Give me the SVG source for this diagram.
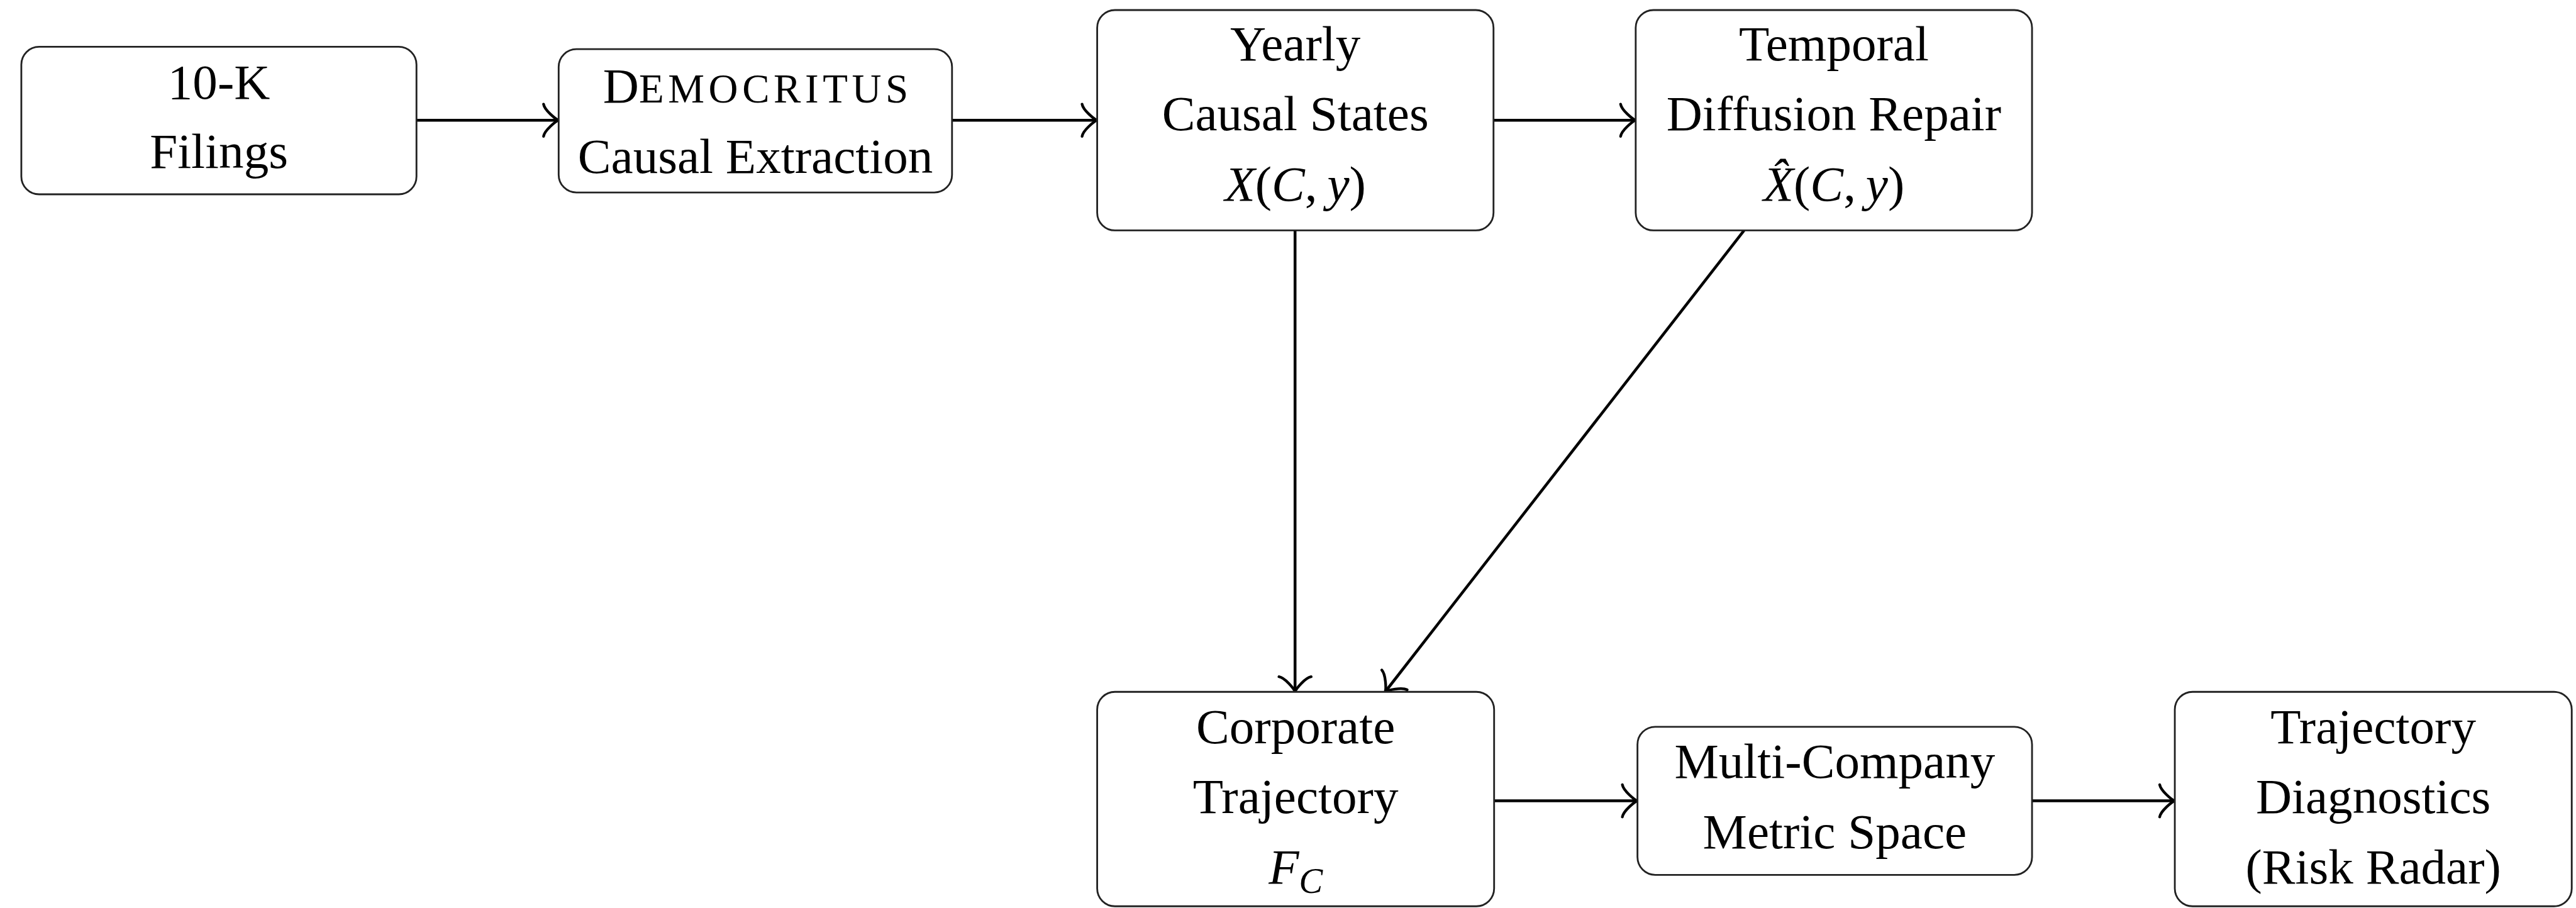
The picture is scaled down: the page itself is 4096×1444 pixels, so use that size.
<svg xmlns="http://www.w3.org/2000/svg" width="4096" height="1444" viewBox="0 0 4096 1444">
<defs>
<style>
.box{fill:#fff;stroke:#222;stroke-width:3}
.t{font-family:"Liberation Serif","Times New Roman",serif;font-size:84px;fill:#000;text-anchor:middle}
.i{font-style:italic}
.c{fill:none;stroke:#000;stroke-width:4.8}
.ah{fill:none;stroke:#000;stroke-width:4.6;stroke-linecap:round;stroke-linejoin:round}
</style>
<marker id="to" markerUnits="userSpaceOnUse" orient="auto" refX="-3" refY="0" markerWidth="60" markerHeight="60" overflow="visible">
<path class="ah" d="M-25.5,27.2 C-23.8,17 -5.1,1.7 0,0 C-5.1,-1.7 -23.8,-17 -25.5,-27.2"/>
</marker>
</defs>
<rect width="4096" height="1444" fill="#fff"/>
<g transform="scale(0.942)">
<g id="connectors">
<line class="c" x1="703" y1="203" x2="940" y2="203" marker-end="url(#to)"/>
<line class="c" x1="1607" y1="203" x2="1849" y2="203" marker-end="url(#to)"/>
<line class="c" x1="2521" y1="203" x2="2758" y2="203" marker-end="url(#to)"/>
<line class="c" x1="2186" y1="389" x2="2186" y2="1165" marker-end="url(#to)"/>
<line class="c" x1="2944" y1="389" x2="2340" y2="1165.6" marker-end="url(#to)"/>
<line class="c" x1="2522" y1="1352" x2="2761" y2="1352" marker-end="url(#to)"/>
<line class="c" x1="3430" y1="1352" x2="3668" y2="1352" marker-end="url(#to)"/>
</g>
<g id="n1">
<rect class="box" x="36" y="79" width="667" height="249" rx="30"/>
<text class="t" x="369.5" y="167">10-K</text>
<text class="t" x="369.5" y="283">Filings</text>
</g>
<g id="n2">
<rect class="box" x="943" y="83" width="664" height="242" rx="30"/>
<text class="t" x="1279" y="173">D<tspan font-size="69" letter-spacing="7">EMOCRITUS</tspan></text>
<text class="t" x="1275" y="292">Causal Extraction</text>
</g>
<g id="n3">
<rect class="box" x="1852" y="17" width="669" height="372" rx="30"/>
<text class="t" x="2186.5" y="102">Yearly</text>
<text class="t" x="2186.5" y="220">Causal States</text>
<text class="t" x="2186.5" y="339"><tspan class="i">X</tspan>(<tspan class="i">C</tspan>,<tspan>&#8201;</tspan><tspan class="i">y</tspan>)</text>
</g>
<g id="n4">
<rect class="box" x="2761" y="17" width="669" height="372" rx="30"/>
<text class="t" x="3095.5" y="102">Temporal</text>
<text class="t" x="3095.5" y="220">Diffusion Repair</text>
<text class="t" x="3095.5" y="339"><tspan class="i">X&#770;</tspan>(<tspan class="i">C</tspan>,<tspan>&#8201;</tspan><tspan class="i">y</tspan>)</text>
</g>
<g id="n5">
<rect class="box" x="1852" y="1168" width="670" height="362" rx="30"/>
<text class="t" x="2187" y="1255">Corporate</text>
<text class="t" x="2187" y="1373">Trajectory</text>
<text class="t" x="2187" y="1492"><tspan class="i">F</tspan><tspan class="i" font-size="60" dy="15">C</tspan></text>
</g>
<g id="n6">
<rect class="box" x="2764" y="1227" width="666" height="250" rx="30"/>
<text class="t" x="3097" y="1313">Multi-Company</text>
<text class="t" x="3097" y="1432">Metric Space</text>
</g>
<g id="n7">
<rect class="box" x="3671" y="1168" width="670" height="362" rx="30"/>
<text class="t" x="4006" y="1255">Trajectory</text>
<text class="t" x="4006" y="1373">Diagnostics</text>
<text class="t" x="4006" y="1492">(Risk Radar)</text>
</g>
</g>
</svg>
